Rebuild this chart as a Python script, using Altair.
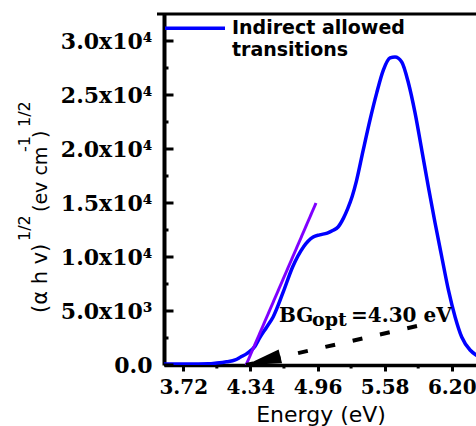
import altair as alt
import pandas as pd

# Tauc curve: photon energy (eV) against (alpha h nu)^1/2
energy = [3.542, 3.80, 3.95, 4.03, 4.12, 4.20, 4.25, 4.31, 4.38, 4.43, 4.49, 4.55,
          4.64, 4.73, 4.83, 4.92, 4.98, 5.05, 5.10, 5.15, 5.20, 5.24, 5.28, 5.32,
          5.38, 5.445, 5.507, 5.568, 5.63, 5.676, 5.738, 5.80, 5.861, 5.923, 5.984,
          6.046, 6.108, 6.169, 6.231, 6.292, 6.369, 6.424, 6.48]
tauc = [100, 100, 110, 180, 300, 470, 740, 1080, 1700, 2590, 3500, 4450,
        6670, 9075, 10930, 11850, 12050, 12220, 12450, 12780, 13600, 14500, 15600, 17050,
        19800, 22700, 25200, 27300, 28430, 28520, 28060, 26110, 23340, 19910, 16480,
        13150, 10000, 6950, 4450, 2590, 1390, 930, 600]

# Optical band gap and the tangent drawn to the absorption edge
bg_opt = 4.30
tangent_e = [bg_opt, 4.946]
tangent_v = [0, 15000]

# Dashed pointer from the label down to the band-gap intercept
arrow_e = [5.879, bg_opt]
arrow_v = [3610, 0]

x_major = [3.72, 4.34, 4.96, 5.58, 6.20]
x_minor = [4.03, 4.65, 5.27, 5.89]
y_major = [0, 5000, 10000, 15000, 20000, 25000, 30000]
y_minor = [2500, 7500, 12500, 17500, 22500, 27500]

legend_label = "Indirect allowed\ntransitions"

W, H = 312, 351
xs = alt.Scale(domain=[3.542, 6.424], nice=False, zero=False)
ys = alt.Scale(domain=[0, 32500], nice=False, zero=False)

SERIF = "DejaVu Serif"
SANS = "DejaVu Sans"

x_axis = alt.Axis(
    values=x_major, format=".2f", title=None, grid=False,
    labelFont=SERIF, labelFontWeight="bold", labelFontSize=20, labelColor="black",
    labelPadding=6, labelFlush=False, labelOverlap=False, labelBound=False,
    tickSize=6, tickWidth=3, tickColor="black",
    domainColor="black", domainWidth=3.5,
)
y_axis = alt.Axis(
    values=y_major, title=None, grid=False, ticks=False,
    labelExpr="datum.value == 0 ? '0.0' : (datum.value < 10000 ? format(datum.value / 1000, '.1f') + 'x10³' : format(datum.value / 10000, '.1f') + 'x10⁴')",
    labelFont=SERIF, labelFontWeight="bold", labelFontSize=22, labelColor="black",
    labelPadding=12, labelOverlap=False, labelBound=False, labelFlush=False,
    domainColor="black", domainWidth=4,
)


def X(field):
    return alt.X(field, scale=xs, axis=x_axis)


def Y(field):
    return alt.Y(field, scale=ys, axis=y_axis)


one = pd.DataFrame({"a": [0]})

curve = alt.Chart(pd.DataFrame({"e": energy, "v": tauc})).mark_line(
    color="#0000FF", strokeWidth=3.5, interpolate="monotone", clip=True
).encode(x=X("e:Q"), y=Y("v:Q"))

tangent = alt.Chart(pd.DataFrame({"e": tangent_e, "v": tangent_v})).mark_line(
    color="#7F00FF", strokeWidth=3
).encode(x=X("e:Q"), y=Y("v:Q"))

pointer = alt.Chart(pd.DataFrame({"e": arrow_e, "v": arrow_v, "o": [0, 1]})).mark_line(
    color="black", strokeWidth=4, strokeDash=[10, 18]
).encode(x=X("e:Q"), y=Y("v:Q"), order="o:O")

head = alt.Chart(pd.DataFrame({"e": [bg_opt], "v": [0]})).mark_point(
    shape="M0,0L1,-0.2L1,0.2Z", size=5000, filled=True, opacity=1,
    color="black", angle=346,
).encode(x=X("e:Q"), y=Y("v:Q"))

# Inward ticks on the left axis
y_major_ticks = alt.Chart(pd.DataFrame({"v": y_major})).mark_rule(
    color="black", strokeWidth=3
).encode(y=Y("v:Q"), x=alt.value(0), x2=alt.value(9.5))
y_minor_ticks = alt.Chart(pd.DataFrame({"v": y_minor})).mark_rule(
    color="black", strokeWidth=3
).encode(y=Y("v:Q"), x=alt.value(0), x2=alt.value(4.5))

# Minor ticks below the energy axis
x_minor_ticks = alt.Chart(pd.DataFrame({"e": x_minor})).mark_rule(
    color="black", strokeWidth=3
).encode(x=X("e:Q"), y=alt.value(H), y2=alt.value(H + 3.5))

top_line = alt.Chart(one).mark_rule(color="black", strokeWidth=3).encode(
    x=alt.value(-7), x2=alt.value(W), y=alt.value(0)
)

# Legend: line sample plus a two-line label
legend_line = alt.Chart(one).mark_rule(color="#0000FF", strokeWidth=3.5).encode(
    x=alt.value(1), x2=alt.value(61), y=alt.value(14.3)
)
legend_txt = alt.Chart(one).mark_text(
    text=legend_label, lineBreak="\n", lineHeight=22,
    font=SANS, fontWeight="bold", fontSize=19,
    align="left", baseline="alphabetic", color="black"
).encode(x=alt.value(68), y=alt.value(20))

# Band-gap annotation with subscript
bg_main = alt.Chart(one).mark_text(
    text="BG", font=SERIF, fontWeight="bold", fontSize=20,
    align="left", baseline="alphabetic", color="black"
).encode(x=alt.value(115), y=alt.value(308))
bg_sub = alt.Chart(one).mark_text(
    text="opt", font=SERIF, fontWeight="bold", fontSize=19,
    align="left", baseline="alphabetic", color="black"
).encode(x=alt.value(148), y=alt.value(312))
bg_val = alt.Chart(one).mark_text(
    text=f"={bg_opt:.2f} eV", font=SERIF, fontWeight="bold", fontSize=20,
    align="left", baseline="alphabetic", color="black"
).encode(x=alt.value(187), y=alt.value(308))

# Axis titles
x_title = alt.Chart(one).mark_text(
    text="Energy (eV)", font=SANS, fontSize=22, align="center",
    baseline="alphabetic", color="black"
).encode(x=alt.value(W / 2 + 1), y=alt.value(408))


def ytitle(txt, y, size, x):
    return alt.Chart(one).mark_text(
        text=txt, font=SANS, fontSize=size, angle=270, align="left",
        baseline="alphabetic", color="black"
    ).encode(x=alt.value(x), y=alt.value(y))


y_title = [
    ytitle("(α h v)", 299, 21, -117),
    ytitle("1/2", 227, 16, -134),
    ytitle("(ev cm", 198, 19, -117),
    ytitle("-1", 138, 16, -134),
    ytitle(")", 124, 19, -117),
    ytitle("1/2", 113, 16, -134),
]

chart = alt.layer(
    curve, tangent, pointer, head,
    y_major_ticks, y_minor_ticks, x_minor_ticks, top_line,
    legend_line, legend_txt,
    bg_main, bg_sub, bg_val, x_title, *y_title,
).properties(
    width=W, height=H,
    autosize=alt.AutoSizeParams(type="none"),
    padding={"left": 164, "top": 14, "right": 0, "bottom": 61},
    background="white",
).configure_view(stroke=None)

chart.save("out.html", embed_options={"renderer": "svg", "actions": False})
